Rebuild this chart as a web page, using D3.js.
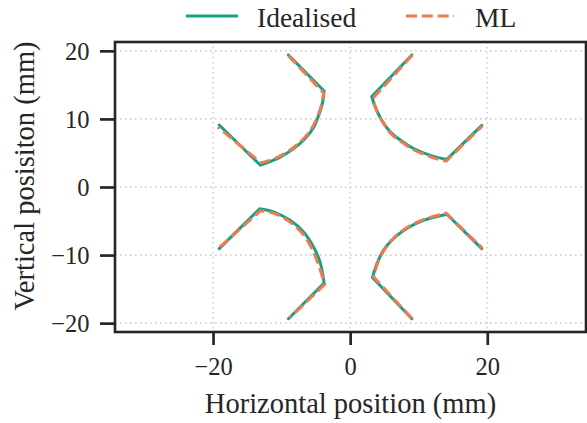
<!DOCTYPE html>
<html><head><meta charset="utf-8">
<script src="https://cdn.jsdelivr.net/npm/d3@7"></script>
<style>body{margin:0;background:#fff}svg{display:block}text{font-family:"Liberation Serif","Times New Roman",serif;fill:#262626}</style>
</head><body><svg id="c" width="587" height="423"></svg>
<script>
// Tick values
const xTicks = [-20, 0, 20];
const yTicks = [-20, -10, 0, 10, 20];
const seriesNames = ["Idealised", "ML"];

// Idealised trajectories (mm), one per quadrant: start, corner, arc..., corner, end
const idealTL = [[-9.0,19.4],[-3.8,14.1],[-4.0,12.5],[-4.6,10.5],[-5.35,8.7],[-6.6,7.1],[-8.3,5.6],[-10.2,4.4],[-13.1,3.2],[-19.1,9.1]];
const idealTR = [[9.0,19.4],[3.15,13.3],[3.65,11.8],[4.6,9.8],[5.85,8.1],[7.3,6.9],[9.25,5.65],[11.7,4.65],[14.1,4.05],[19.2,9.05]];
const idealBL = [[-19.1,-9.05],[-13.2,-3.2],[-11.2,-3.65],[-8.75,-4.9],[-6.8,-6.6],[-5.35,-8.8],[-4.4,-11.0],[-3.8,-14.1],[-9.0,-19.35]];
const idealBR = [[9.0,-19.35],[3.25,-13.3],[3.9,-11.3],[4.85,-9.3],[6.3,-7.6],[8.25,-6.1],[10.7,-4.9],[14.1,-4.0],[19.2,-9.05]];

// ML trajectories (mm)
const mlTL = [[-9.0,19.3],[-3.85,13.8],[-4.2,12.0],[-4.9,10.0],[-5.8,8.3],[-7.1,6.8],[-8.8,5.4],[-10.7,4.3],[-13.0,3.55],[-19.3,8.8]];
const mlTR = [[9.1,19.4],[3.3,13.0],[3.8,11.4],[4.8,9.5],[6.0,7.8],[7.5,6.6],[9.4,5.4],[11.8,4.4],[14.0,3.8],[19.3,9.0]];
const mlBL = [[-19.0,-8.8],[-13.1,-3.5],[-11.0,-3.9],[-8.7,-5.2],[-6.9,-6.9],[-5.6,-9.0],[-4.7,-11.2],[-3.7,-14.3],[-8.8,-19.2]];
const mlBR = [[9.0,-19.3],[3.4,-13.2],[4.0,-11.2],[5.0,-9.2],[6.4,-7.45],[8.3,-5.95],[10.8,-4.75],[14.0,-3.85],[19.3,-9.0]];

const idealSet = [idealTL, idealTR, idealBL, idealBR];
const mlSet = [mlTL, mlTR, mlBL, mlBR];
const colors = ["#12a282", "#f07a52"];

const L = 115, R = 586, T = 42, B = 332;
const svg = d3.select("#c");
const x = d3.scaleLinear().domain([-34.3, 34.4]).range([L, R]);
const y = d3.scaleLinear().domain([-21.3, 21.3]).range([B, T]);

// grid
const g = svg.append("g");
g.selectAll(".gx").data(xTicks).join("line")
  .attr("x1", d => x(d)).attr("x2", d => x(d)).attr("y1", T).attr("y2", B)
  .attr("stroke", "#cfcfcf").attr("stroke-width", 1.6).attr("stroke-dasharray", "1.6,3.4");
g.selectAll(".gy").data(yTicks).join("line")
  .attr("y1", d => y(d)).attr("y2", d => y(d)).attr("x1", L).attr("x2", R)
  .attr("stroke", "#cfcfcf").attr("stroke-width", 1.6).attr("stroke-dasharray", "1.6,3.4");

// trajectory: straight start->corner, smooth arc, straight corner->end
const arcLine = d3.line().x(d => x(d[0])).y(d => y(d[1])).curve(d3.curveCatmullRom.alpha(0.5));
function traj(pts) {
  const s = pts[0], e = pts[pts.length - 1];
  const arc = arcLine(pts.slice(1, pts.length - 1));
  return `M${x(s[0])},${y(s[1])}L` + arc.slice(1) + `L${x(e[0])},${y(e[1])}`;
}
svg.append("g").selectAll("path").data(idealSet).join("path")
  .attr("d", traj).attr("fill", "none").attr("stroke", colors[0]).attr("stroke-width", 3)
  .attr("stroke-linejoin", "round").attr("stroke-linecap", "round");
svg.append("g").selectAll("path").data(mlSet).join("path")
  .attr("d", traj).attr("fill", "none").attr("stroke", colors[1]).attr("stroke-width", 3)
  .attr("stroke-dasharray", "11,4.8");

// axes
const ax = svg.append("g").attr("transform", `translate(0,${B})`)
  .call(d3.axisBottom(x).tickValues(xTicks).tickSize(13).tickPadding(0));
ax.select(".domain").remove();
ax.selectAll(".tick line").attr("stroke", "#262626").attr("stroke-width", 2.7);
ax.selectAll(".tick text").attr("y", 43).attr("dy", 0).style("font-size", "24.5px")
  .style("font-family", "Liberation Serif").attr("fill", "#262626");

const ay = svg.append("g").attr("transform", `translate(${L},0)`)
  .call(d3.axisLeft(y).tickValues(yTicks).tickSize(15).tickPadding(0));
ay.select(".domain").remove();
ay.selectAll(".tick line").attr("stroke", "#262626").attr("stroke-width", 2.7);
ay.selectAll(".tick text").attr("x", -25.5).attr("dy", "0.36em").style("font-size", "24.5px")
  .style("font-family", "Liberation Serif").attr("fill", "#262626");

// frame
svg.append("rect").attr("x", L).attr("y", T).attr("width", R - L).attr("height", B - T)
  .attr("fill", "none").attr("stroke", "#262626").attr("stroke-width", 2.6);

// axis labels
svg.append("text").attr("x", 350.5).attr("y", 412.5).attr("text-anchor", "middle")
  .style("font-size", "28.5px").text("Horizontal position (mm)");
svg.append("text").attr("transform", "translate(33.5,176) rotate(-90)").attr("text-anchor", "middle")
  .style("font-size", "28.5px").text("Vertical posisiton (mm)");

// legend
const leg = [{x1: 186, x2: 238, tx: 257}, {x1: 406, x2: 454, tx: 475}];
seriesNames.forEach((n, i) => {
  svg.append("line").attr("x1", leg[i].x1).attr("x2", leg[i].x2).attr("y1", 16).attr("y2", 16)
    .attr("stroke", colors[i]).attr("stroke-width", 3)
    .attr("stroke-dasharray", i === 1 ? "11,4.8" : null);
  svg.append("text").attr("x", leg[i].tx).attr("y", 27).style("font-size", "27.5px").text(n);
});
</script></body></html>
